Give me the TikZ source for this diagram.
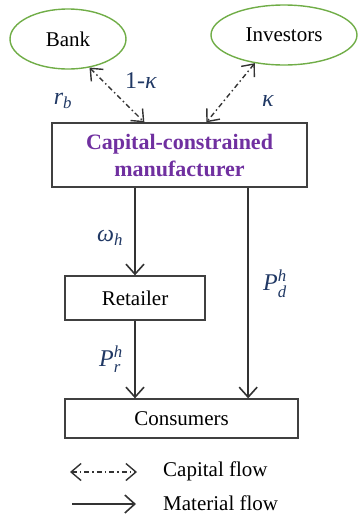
\documentclass[tikz,border=0pt]{standalone}
\usepackage{fontspec}
\usepackage{amsmath}
\setmainfont{Liberation Serif}
\usetikzlibrary{shapes.geometric,arrows.meta,calc}
\definecolor{navy}{HTML}{203864}
\definecolor{purp}{HTML}{7030A0}
\definecolor{grn}{HTML}{70AD47}
\definecolor{edge}{HTML}{404040}
\begin{document}
\begin{tikzpicture}[x=1pt,y=-1pt,
  every node/.style={font=\fontsize{21}{25}\selectfont},
  party/.style={draw=grn,line width=1.4pt,ellipse,inner sep=0pt},
  box/.style={draw=edge,line width=1.3pt,inner sep=0pt,align=center},
  lab/.style={text=navy,inner sep=0pt,font=\fontsize{24}{28}\selectfont},
  capflow/.style={draw=black!80,line width=1.4pt,dash pattern=on 5pt off 3pt on 1.5pt off 3pt,
    {Straight Barb[length=10pt,width=17pt,line width=1.4pt]}-{Straight Barb[length=10pt,width=17pt,line width=1.4pt]}},
  matflow/.style={draw=black!80,line width=1.6pt,-{Straight Barb[length=10pt,width=18pt,line width=1.6pt]}}]
\useasboundingbox (0,0) rectangle (358,515);
\node[party,minimum width=116pt,minimum height=60pt] (bank) at (68,39) {Bank};
\node[party,minimum width=146pt,minimum height=60pt] (inv) at (284,35) {Investors};
\node[box,minimum width=255pt,minimum height=64pt,text=purp,font=\fontsize{22}{27}\selectfont\bfseries] (man) at (179.5,155) {Capital-constrained\\manufacturer};
\node[box,minimum width=140pt,minimum height=44pt] (ret) at (135,298) {Retailer};
\node[box,minimum width=233pt,minimum height=39pt] (cons) at (181.5,418.5) {Consumers};
% capital flows
\draw[capflow] (bank.-53) -- ($(man.north west)+(93,0)$);
\draw[capflow] (inv.-136) -- ($(man.north west)+(155,0)$);
\node[lab] (k1) at (141,81) {1-\textit{κ}};
\node[lab] (rb) at (63,101) {$\textit{r}_{\textit{b}}$};
\node[lab] (k2) at (268,101) {\textit{κ}};
% material flows
\draw[matflow] (man.south -| ret.north) -- (ret.north);
\coordinate (pdtop) at ($(man.south east)+(-59.5,0)$);
\draw[matflow] (pdtop) -- (pdtop |- cons.north);
\draw[matflow] (ret.south) -- (ret.south |- cons.north);
\node[lab] (wh) at (110,238) {$\textit{ω}_{\textit{h}}$};
\node[lab] (prh) at (111,359) {$\textit{P}^{\textit{h}}_{\textit{r}}$};
\node[lab] (pdh) at (275,284) {$\textit{P}^{\textit{h}}_{\textit{d}}$};
% legend
\coordinate (c1) at (70,472);
\coordinate (c2) at (137,472);
\draw[capflow] (c1) -- (c2);
\node[anchor=west,inner sep=0pt] (capt) at (163,471) {Capital flow};
\coordinate (m1) at (72,504);
\coordinate (m2) at (136,504);
\draw[matflow] (m1) -- (m2);
\node[anchor=west,inner sep=0pt] (matt) at (163,503) {Material flow};
\end{tikzpicture}
\end{document}
